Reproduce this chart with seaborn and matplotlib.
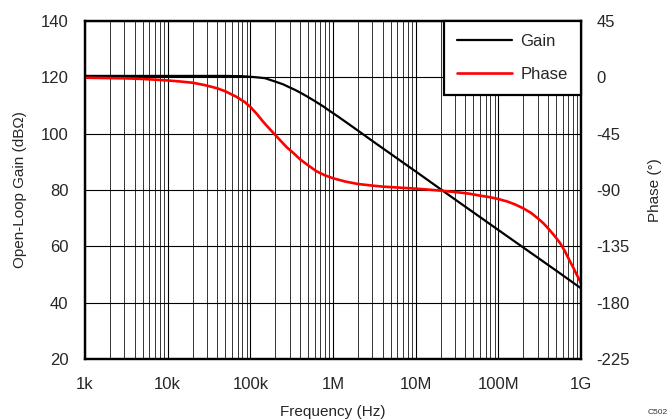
import numpy as np
import pandas as pd
import matplotlib
matplotlib.use("Agg")
import matplotlib.pyplot as plt
import matplotlib.ticker as mticker
import seaborn as sns

# values
gain_freq = [1e3, 1e4, 5e4, 8e4, 1e5, 1.2e5, 1.5e5, 2e5, 2.5e5, 3e5, 3.5e5, 4e5, 4.8e5, 6e5, 7.6e5,
             8.5e5, 1e6, 1.2e6, 1.5e6, 2e6, 3e6, 5e6, 1e7, 2e7, 3.4e7, 6e7, 1e8, 2e8, 5e8, 1e9]
gain_db = [120.5, 120.5, 120.5, 120.4, 120.2, 120.0, 119.7, 118.5, 117.5, 116.4, 115.5, 114.6, 113.3, 111.6, 109.7,
           108.7, 107.3, 105.7, 103.7, 101.1, 97.4, 92.8, 86.6, 80.3, 75.5, 70.4, 65.8, 59.6, 51.4, 45.1]

phase_freq = [1e3, 3e3, 5e3, 8.1e3, 1e4, 1.4e4, 2e4, 2.8e4, 4e4, 5e4, 6.8e4, 8.5e4, 1e5, 1.2e5, 1.43e5,
              1.7e5, 2e5, 2.35e5, 2.75e5, 3.3e5, 4e5, 5e5, 6.3e5, 8e5, 1e6, 1.4e6, 2e6, 3e6, 4e6, 6e6,
              8.5e6, 1.2e7, 2e7, 3.4e7, 4.5e7, 6e7, 8e7, 1e8, 1.3e8, 1.6e8, 2e8, 2.5e8, 3e8, 3.5e8,
              4e8, 4.7e8, 5.6e8, 6.4e8, 7.2e8, 8e8, 8.7e8, 9.4e8, 1e9]
phase_deg = [-0.3, -0.8, -1.3, -2.1, -2.5, -3.3, -4.3, -6.2, -8.8, -11.2, -15.6, -19.6, -23.6, -29.3, -35.5,
             -41.0, -46.0, -51.0, -55.8, -60.3, -65.5, -70.3, -75.0, -78.3, -80.6, -83.2, -85.2, -86.5, -87.3, -88.0,
             -88.6, -89.3, -90.5, -92.0, -93.0, -94.5, -95.8, -97.2, -99.3, -101.6, -104.6, -108.4, -112.6, -116.5,
             -120.6, -126.0, -132.5, -139.0, -145.8, -151.5, -156.5, -160.8, -164.5]

xtick_vals = [1e3, 1e4, 1e5, 1e6, 1e7, 1e8, 1e9]
xtick_labels = ["1k", "10k", "100k", "1M", "10M", "100M", "1G"]
gain_ticks = [20, 40, 60, 80, 100, 120, 140]
phase_ticks = [-225, -180, -135, -90, -45, 0, 45]

gain_df = pd.DataFrame({"freq": gain_freq, "gain": gain_db})
phase_df = pd.DataFrame({"freq": phase_freq, "phase": phase_deg})

sns.set_style("white")
plt.rcParams["font.family"] = ["Liberation Sans", "DejaVu Sans"]
plt.rcParams["axes.unicode_minus"] = False

fig = plt.figure(figsize=(6.71, 4.19), dpi=100)
ax = fig.add_axes([85 / 671, 1 - 359 / 419, 496 / 671, 338 / 419])
ax2 = ax.twinx()

sns.lineplot(data=gain_df, x="freq", y="gain", ax=ax, color="black", lw=1.6, label="Gain", legend=False)
sns.lineplot(data=phase_df, x="freq", y="phase", ax=ax2, color="#ff0000", lw=1.9, label="Phase", legend=False)

ax.set_xscale("log")
ax.set_xlim(1e3, 1e9)
ax.set_ylim(20, 140)
ax2.set_ylim(-225, 45)

ax.xaxis.set_major_locator(mticker.FixedLocator(xtick_vals))
ax.xaxis.set_major_formatter(mticker.FixedFormatter(xtick_labels))
ax.xaxis.set_minor_locator(mticker.LogLocator(base=10, subs=np.arange(2, 10)))
ax.xaxis.set_minor_formatter(mticker.NullFormatter())
ax.set_yticks(gain_ticks)
ax2.set_yticks(phase_ticks)

ax.grid(True, which="major", axis="both", color="black", lw=0.8)
ax.grid(True, which="minor", axis="x", color="#333333", lw=0.7)
ax.set_axisbelow(True)

ax.tick_params(axis="x", which="both", length=0, pad=13, labelsize=12)
ax.tick_params(axis="y", length=0, pad=12, labelsize=12)
ax2.tick_params(axis="y", length=0, pad=11, labelsize=12)

for a in (ax, ax2):
    for s in a.spines.values():
        s.set_color("black")
        s.set_linewidth(1.6)

ax.set_xlabel("Frequency (Hz)", fontsize=11, labelpad=9)
ax.set_ylabel("Open-Loop Gain (dB\u03a9)", fontsize=11, labelpad=10)
ax2.set_ylabel("Phase (\u00b0)", fontsize=11, labelpad=13)

h1, l1 = ax.get_legend_handles_labels()
h2, l2 = ax2.get_legend_handles_labels()
leg = ax2.legend(h1 + h2, l1 + l2, loc="upper right", bbox_to_anchor=(1, 1), borderaxespad=0,
                 fontsize=12, frameon=True, fancybox=False, framealpha=1, edgecolor="black",
                 handlelength=3.3, handletextpad=0.5, labelspacing=1.05, borderpad=0.8)
leg.get_frame().set_linewidth(1.6)

fig.text(648 / 671, 0.012, "C502", fontsize=6, color="#333333")

fig.savefig("out.png", dpi=100)
